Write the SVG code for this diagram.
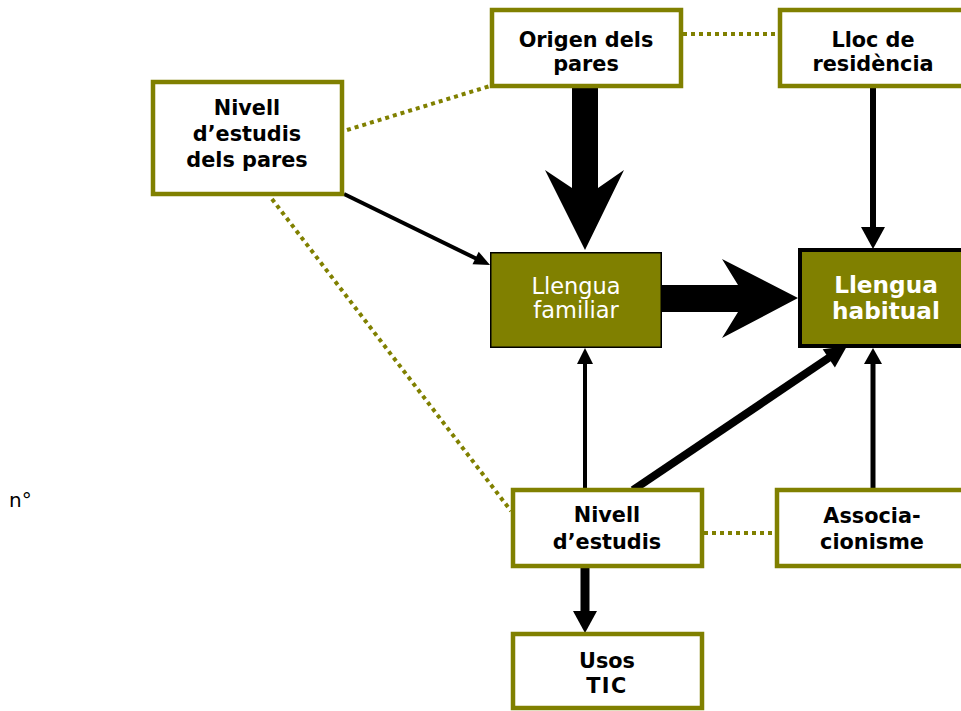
<svg xmlns="http://www.w3.org/2000/svg" width="961" height="711" viewBox="0 0 961 711">
<style>
.box{fill:#ffffff;stroke:#808000;stroke-width:4.5}
.t{font-family:"DejaVu Sans","Verdana",sans-serif;font-weight:bold;font-size:20.8px;fill:#000;text-anchor:middle}
.tw{font-family:"DejaVu Sans","Verdana",sans-serif;font-size:22.5px;fill:#fff;text-anchor:middle}
.twb{font-family:"DejaVu Sans","Verdana",sans-serif;font-weight:bold;font-size:23.2px;fill:#fff;text-anchor:middle}
.dot{stroke:#808000;stroke-width:4;stroke-dasharray:4 4;fill:none}
.ln{stroke:#000;fill:none}
</style>
<rect width="961" height="711" fill="#ffffff"/>
<g id="connectors">
  <line class="dot" x1="683" y1="34" x2="778" y2="34"/>
  <line class="dot" x1="347" y1="130" x2="490" y2="86"/>
  <line class="dot" x1="272" y1="199" x2="511" y2="511"/>
  <line class="dot" x1="704" y1="533" x2="775" y2="533"/>
  <polygon points="572,88 598,88 598,188 624,170 585,250 545,170 572,188" fill="#000"/>
  <polygon points="657,285 738,285 722,259 798,298 722,338 738,312 657,312" fill="#000"/>
  <line class="ln" x1="873" y1="88" x2="873" y2="229" stroke-width="6"/>
  <polygon points="861,227 885,227 873,249" fill="#000"/>
  <line class="ln" x1="344" y1="194" x2="477" y2="259" stroke-width="4"/>
  <polygon points="490,265 472.5,264.3 478.7,251.7" fill="#000"/>
  <line class="ln" x1="585" y1="488" x2="585" y2="362" stroke-width="4"/>
  <polygon points="577,364 593,364 585,348" fill="#000"/>
  <line class="ln" x1="633" y1="490" x2="830" y2="357" stroke-width="8"/>
  <polygon points="847,346 834.9,367.4 822.7,349.2" fill="#000"/>
  <line class="ln" x1="873" y1="488" x2="873" y2="362" stroke-width="5"/>
  <polygon points="864,364 882,364 873,348" fill="#000"/>
  <line class="ln" x1="585" y1="568" x2="585" y2="612" stroke-width="9"/>
  <polygon points="573,611 597,611 585,633" fill="#000"/>
</g>
<g id="origen">
  <rect class="box" x="492" y="10" width="189" height="76"/>
  <text class="t" x="586" y="47">Origen dels</text>
  <text class="t" x="586" y="71">pares</text>
</g>
<g id="lloc">
  <rect class="box" x="780" y="10" width="189" height="76"/>
  <text class="t" x="873" y="47">Lloc de</text>
  <text class="t" x="873" y="71">residència</text>
</g>
<g id="nivell-pares">
  <rect class="box" x="153" y="82" width="189" height="112"/>
  <text class="t" x="247" y="115">Nivell</text>
  <text class="t" x="247" y="141">d’estudis</text>
  <text class="t" x="247" y="167">dels pares</text>
</g>
<g id="llengua-familiar">
  <rect x="490.75" y="252.75" width="170.5" height="94.5" fill="#808000" stroke="#000" stroke-width="1.5"/>
  <text class="tw" x="576" y="294">Llengua</text>
  <text class="tw" x="576" y="318">familiar</text>
</g>
<g id="llengua-habitual">
  <rect x="800" y="250" width="176" height="96" fill="#808000" stroke="#000" stroke-width="4"/>
  <text class="twb" x="886" y="293">Llengua</text>
  <text class="twb" x="886" y="319">habitual</text>
</g>
<g id="nivell-estudis">
  <rect class="box" x="513" y="490" width="189" height="76"/>
  <text class="t" x="607" y="522">Nivell</text>
  <text class="t" x="607" y="549">d’estudis</text>
</g>
<g id="associacionisme">
  <rect class="box" x="777" y="490" width="189" height="76"/>
  <text class="t" x="872" y="523">Associa-</text>
  <text class="t" x="872" y="549">cionisme</text>
</g>
<g id="usos-tic">
  <rect class="box" x="513" y="634" width="189" height="74"/>
  <text class="t" x="607" y="668">Usos</text>
  <text class="t" x="607" y="693" letter-spacing="1.5">TIC</text>
</g>
<g id="n-label">
  <text x="9" y="507" font-family="DejaVu Sans, Verdana, sans-serif" font-size="20px" fill="#000">n°</text>
</g>
</svg>
